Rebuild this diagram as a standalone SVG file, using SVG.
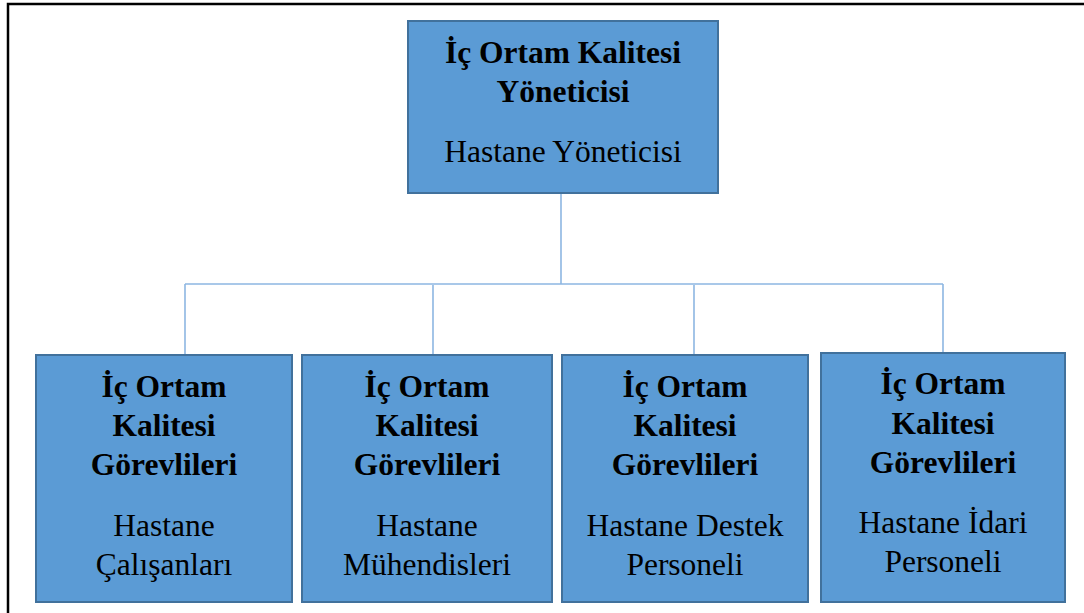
<svg xmlns="http://www.w3.org/2000/svg" width="1084" height="613" viewBox="0 0 1084 613">
<style>
.box{fill:#5B9BD5;stroke:#41719C;stroke-width:2}
.t{font-family:"Liberation Serif","Times New Roman",serif;font-size:31.5px;fill:#000;text-anchor:middle}
.b{font-weight:bold}
.c{fill:none;stroke:#8DB6E2;stroke-width:1.6}
</style>
<rect width="1084" height="613" fill="#fff"/>
<path d="M8,620 V4 H1090" fill="none" stroke="#000" stroke-width="2.5"/>
<g id="connectors">
<path class="c" d="M561,193 V284"/>
<path class="c" d="M185,284 H943"/>
<path class="c" d="M185,284 V355"/>
<path class="c" d="M433,285 V355"/>
<path class="c" d="M694,285 V355"/>
<path class="c" d="M943,284 V353"/>
</g>
<g id="top">
<rect class="box" x="408" y="21" width="310" height="172"/>
<text class="t b" x="563" y="63">İç Ortam Kalitesi</text>
<text class="t b" x="563" y="102">Yöneticisi</text>
<text class="t" x="563" y="162">Hastane Yöneticisi</text>
</g>
<g id="n1">
<rect class="box" x="36" y="355" width="256" height="247"/>
<text class="t b" x="164" y="397">İç Ortam</text>
<text class="t b" x="164" y="436">Kalitesi</text>
<text class="t b" x="164" y="475">Görevlileri</text>
<text class="t" x="164" y="536">Hastane</text>
<text class="t" x="164" y="575">Çalışanları</text>
</g>
<g id="n2">
<rect class="box" x="302" y="355" width="250" height="247"/>
<text class="t b" x="427" y="397">İç Ortam</text>
<text class="t b" x="427" y="436">Kalitesi</text>
<text class="t b" x="427" y="475">Görevlileri</text>
<text class="t" x="427" y="536">Hastane</text>
<text class="t" x="427" y="575">Mühendisleri</text>
</g>
<g id="n3">
<rect class="box" x="562" y="355" width="246" height="247"/>
<text class="t b" x="685" y="397">İç Ortam</text>
<text class="t b" x="685" y="436">Kalitesi</text>
<text class="t b" x="685" y="475">Görevlileri</text>
<text class="t" x="685" y="536">Hastane Destek</text>
<text class="t" x="685" y="575">Personeli</text>
</g>
<g id="n4">
<rect class="box" x="821" y="353" width="244" height="249"/>
<text class="t b" x="943" y="394">İç Ortam</text>
<text class="t b" x="943" y="434">Kalitesi</text>
<text class="t b" x="943" y="473">Görevlileri</text>
<text class="t" x="943" y="533">Hastane İdari</text>
<text class="t" x="943" y="572">Personeli</text>
</g>
</svg>
